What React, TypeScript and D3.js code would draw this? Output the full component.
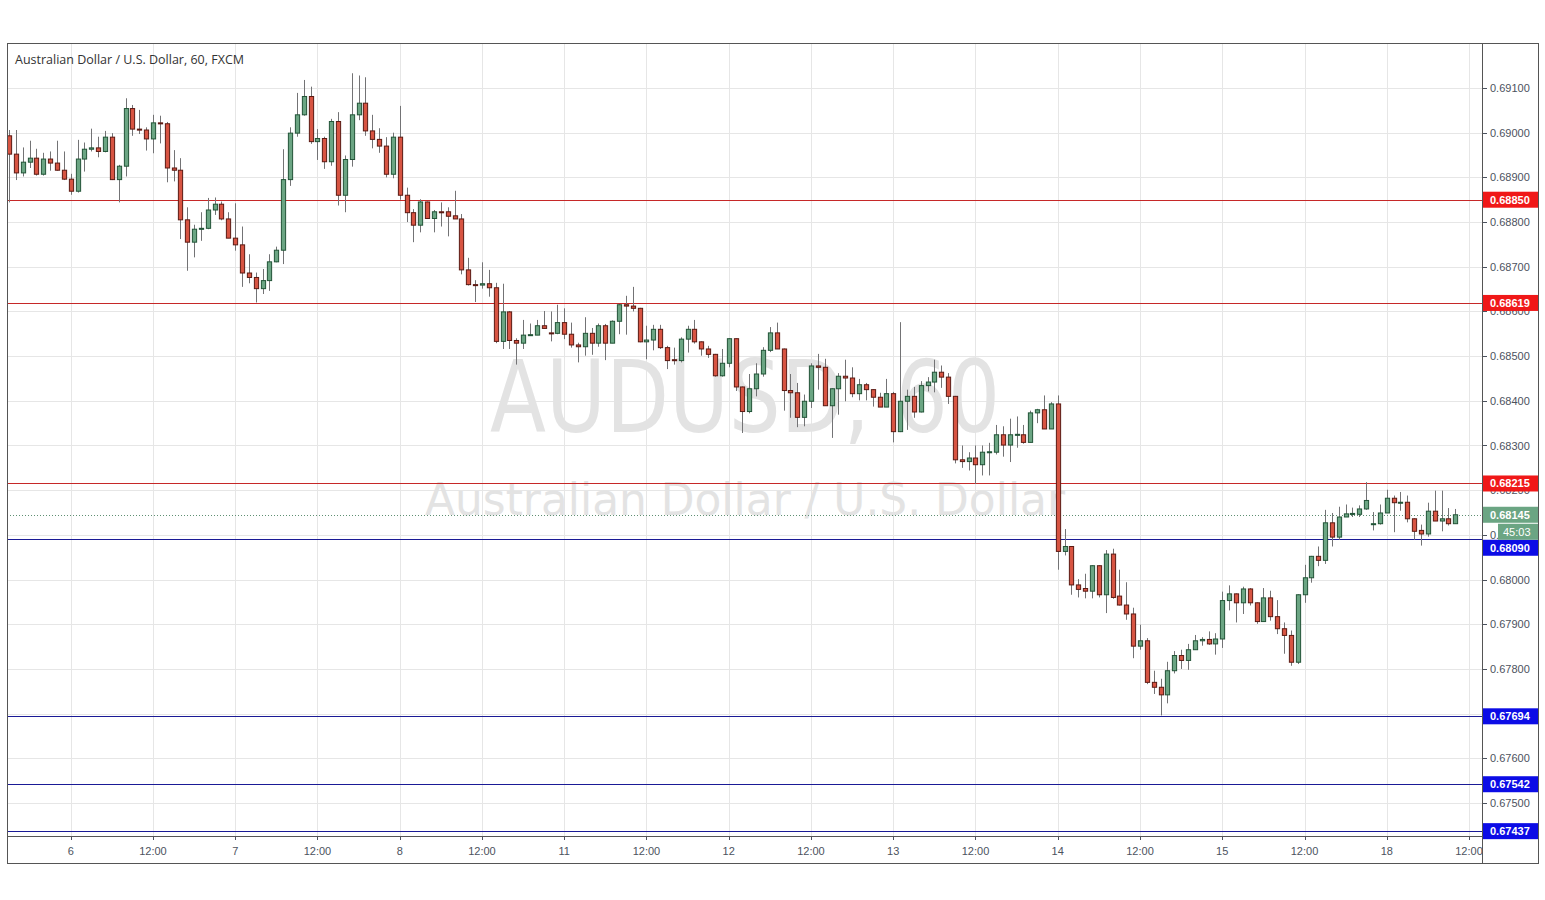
import * as d3 from 'd3';

// AUDUSD 60-minute candles (index 0 = first visible bar)
const opens = [
  0.68993, 0.68952, 0.68910, 0.68934, 0.68943, 0.68907, 0.68941, 0.68932, 0.68916, 0.68896,
  0.68869, 0.68941, 0.68963, 0.68966, 0.68958, 0.68990, 0.68895, 0.68925, 0.69054, 0.69008,
  0.69006, 0.68986, 0.69022, 0.69020, 0.68921, 0.68916, 0.68805, 0.68755, 0.68785, 0.68786,
  0.68827, 0.68840, 0.68807, 0.68764, 0.68749, 0.68686, 0.68676, 0.68651, 0.68669, 0.68711,
  0.68737, 0.68895, 0.68999, 0.69040, 0.69081, 0.68980, 0.68987, 0.68935, 0.69025, 0.68860,
  0.68940, 0.69040, 0.69066, 0.69004, 0.68985, 0.68970, 0.68907, 0.68990, 0.68860, 0.68821,
  0.68793, 0.68845, 0.68808, 0.68823, 0.68823, 0.68814, 0.68807, 0.68693, 0.68660, 0.68659,
  0.68662, 0.68653, 0.68533, 0.68599, 0.68535, 0.68529, 0.68547, 0.68547, 0.68568, 0.68552,
  0.68551, 0.68575, 0.68549, 0.68525, 0.68521, 0.68551, 0.68529, 0.68568, 0.68529, 0.68578,
  0.68615, 0.68612, 0.68607, 0.68532, 0.68536, 0.68560, 0.68519, 0.68492, 0.68490, 0.68538,
  0.68560, 0.68532, 0.68516, 0.68504, 0.68456, 0.68484, 0.68539, 0.68431, 0.68376, 0.68427,
  0.68460, 0.68513, 0.68552, 0.68516, 0.68423, 0.68418, 0.68363, 0.68399, 0.68478, 0.68475,
  0.68389, 0.68427, 0.68455, 0.68451, 0.68416, 0.68436, 0.68425, 0.68408, 0.68386, 0.68416,
  0.68331, 0.68399, 0.68410, 0.68375, 0.68434, 0.68442, 0.68464, 0.68453, 0.68410, 0.68268,
  0.68264, 0.68272, 0.68257, 0.68285, 0.68285, 0.68324, 0.68301, 0.68324, 0.68324, 0.68307,
  0.68373, 0.68380, 0.68337, 0.68393, 0.68063, 0.68074, 0.67988, 0.67980, 0.67974, 0.68031,
  0.67966, 0.68057, 0.67963, 0.67943, 0.67923, 0.67851, 0.67863, 0.67770, 0.67759, 0.67742,
  0.67796, 0.67830, 0.67819, 0.67843, 0.67863, 0.67866, 0.67856, 0.67867, 0.67953, 0.67968,
  0.67948, 0.67979, 0.67948, 0.67906, 0.67959, 0.67917, 0.67890, 0.67875, 0.67815, 0.67966,
  0.68004, 0.68052, 0.68043, 0.68127, 0.68095, 0.68140, 0.68147, 0.68146, 0.68158, 0.68124,
  0.68125, 0.68149, 0.68182, 0.68172, 0.68173, 0.68136, 0.68110, 0.68102, 0.68153, 0.68131,
  0.68136, 0.68125,
];
const highs = [
  0.69006, 0.69006, 0.68967, 0.68982, 0.68964, 0.68955, 0.68958, 0.68982, 0.68958, 0.68908,
  0.68984, 0.68978, 0.69009, 0.68991, 0.69004, 0.68999, 0.68928, 0.69077, 0.69062, 0.69051,
  0.69012, 0.69040, 0.69038, 0.69024, 0.68961, 0.68943, 0.68833, 0.68794, 0.68822, 0.68854,
  0.68855, 0.68846, 0.68822, 0.68842, 0.68790, 0.68728, 0.68687, 0.68695, 0.68728, 0.68745,
  0.68963, 0.69012, 0.69089, 0.69118, 0.69103, 0.69008, 0.68991, 0.69031, 0.69046, 0.68949,
  0.69133, 0.69128, 0.69124, 0.69040, 0.69010, 0.68990, 0.69000, 0.69060, 0.68877, 0.68829,
  0.68851, 0.68846, 0.68827, 0.68844, 0.68833, 0.68870, 0.68818, 0.68720, 0.68670, 0.68710,
  0.68693, 0.68664, 0.68662, 0.68601, 0.68540, 0.68581, 0.68573, 0.68581, 0.68601, 0.68600,
  0.68615, 0.68607, 0.68575, 0.68530, 0.68587, 0.68563, 0.68573, 0.68572, 0.68580, 0.68616,
  0.68635, 0.68655, 0.68608, 0.68568, 0.68570, 0.68570, 0.68523, 0.68519, 0.68542, 0.68568,
  0.68581, 0.68533, 0.68523, 0.68505, 0.68516, 0.68540, 0.68540, 0.68432, 0.68460, 0.68484,
  0.68520, 0.68565, 0.68575, 0.68517, 0.68460, 0.68440, 0.68414, 0.68484, 0.68505, 0.68494,
  0.68428, 0.68462, 0.68492, 0.68475, 0.68449, 0.68440, 0.68426, 0.68418, 0.68449, 0.68420,
  0.68576, 0.68425, 0.68431, 0.68444, 0.68453, 0.68492, 0.68479, 0.68462, 0.68411, 0.68300,
  0.68285, 0.68300, 0.68300, 0.68306, 0.68346, 0.68343, 0.68360, 0.68365, 0.68346, 0.68378,
  0.68382, 0.68412, 0.68397, 0.68412, 0.68113, 0.68075, 0.68001, 0.68013, 0.68032, 0.68032,
  0.68066, 0.68069, 0.68022, 0.67994, 0.67937, 0.67899, 0.67869, 0.67796, 0.67778, 0.67816,
  0.67840, 0.67843, 0.67856, 0.67876, 0.67871, 0.67884, 0.67880, 0.67973, 0.67987, 0.67969,
  0.67984, 0.67981, 0.67949, 0.67981, 0.67975, 0.67954, 0.67904, 0.67886, 0.67967, 0.68033,
  0.68053, 0.68074, 0.68156, 0.68149, 0.68163, 0.68168, 0.68161, 0.68166, 0.68218, 0.68151,
  0.68168, 0.68201, 0.68188, 0.68196, 0.68188, 0.68137, 0.68123, 0.68172, 0.68199, 0.68199,
  0.68160, 0.68158,
];
const lows = [
  0.68844, 0.68894, 0.68902, 0.68921, 0.68904, 0.68904, 0.68915, 0.68915, 0.68894, 0.68861,
  0.68866, 0.68913, 0.68958, 0.68945, 0.68956, 0.68894, 0.68844, 0.68902, 0.68993, 0.68997,
  0.68960, 0.68954, 0.68976, 0.68889, 0.68891, 0.68762, 0.68691, 0.68721, 0.68758, 0.68784,
  0.68816, 0.68804, 0.68764, 0.68736, 0.68655, 0.68663, 0.68620, 0.68639, 0.68646, 0.68710,
  0.68706, 0.68881, 0.68991, 0.69038, 0.68975, 0.68939, 0.68919, 0.68926, 0.68837, 0.68822,
  0.68924, 0.69028, 0.68993, 0.68965, 0.68955, 0.68900, 0.68898, 0.68850, 0.68800, 0.68755,
  0.68777, 0.68807, 0.68777, 0.68790, 0.68768, 0.68807, 0.68683, 0.68658, 0.68621, 0.68651,
  0.68633, 0.68529, 0.68516, 0.68516, 0.68481, 0.68516, 0.68547, 0.68547, 0.68562, 0.68533,
  0.68549, 0.68538, 0.68519, 0.68486, 0.68501, 0.68503, 0.68521, 0.68491, 0.68529, 0.68549,
  0.68548, 0.68600, 0.68531, 0.68493, 0.68513, 0.68516, 0.68471, 0.68481, 0.68486, 0.68508,
  0.68528, 0.68501, 0.68496, 0.68454, 0.68454, 0.68475, 0.68422, 0.68328, 0.68372, 0.68410,
  0.68454, 0.68509, 0.68516, 0.68378, 0.68362, 0.68341, 0.68343, 0.68384, 0.68425, 0.68389,
  0.68317, 0.68369, 0.68399, 0.68408, 0.68401, 0.68401, 0.68387, 0.68386, 0.68386, 0.68307,
  0.68330, 0.68335, 0.68362, 0.68374, 0.68421, 0.68419, 0.68429, 0.68393, 0.68260, 0.68250,
  0.68244, 0.68214, 0.68233, 0.68233, 0.68280, 0.68275, 0.68263, 0.68295, 0.68304, 0.68307,
  0.68350, 0.68337, 0.68337, 0.68022, 0.68054, 0.67966, 0.67960, 0.67958, 0.67958, 0.67960,
  0.67925, 0.67957, 0.67942, 0.67910, 0.67824, 0.67843, 0.67766, 0.67744, 0.67696, 0.67723,
  0.67790, 0.67800, 0.67798, 0.67843, 0.67852, 0.67854, 0.67832, 0.67847, 0.67931, 0.67904,
  0.67923, 0.67942, 0.67901, 0.67906, 0.67908, 0.67878, 0.67834, 0.67807, 0.67811, 0.67948,
  0.67993, 0.68030, 0.68035, 0.68074, 0.68089, 0.68140, 0.68140, 0.68140, 0.68156, 0.68110,
  0.68123, 0.68149, 0.68106, 0.68154, 0.68128, 0.68089, 0.68076, 0.68096, 0.68131, 0.68108,
  0.68121, 0.68125,
];
const closes = [
  0.68952, 0.68910, 0.68934, 0.68943, 0.68907, 0.68941, 0.68932, 0.68916, 0.68896, 0.68869,
  0.68941, 0.68963, 0.68966, 0.68958, 0.68990, 0.68895, 0.68925, 0.69054, 0.69008, 0.69006,
  0.68986, 0.69022, 0.69020, 0.68921, 0.68916, 0.68805, 0.68755, 0.68784, 0.68786, 0.68827,
  0.68840, 0.68807, 0.68764, 0.68749, 0.68686, 0.68676, 0.68651, 0.68669, 0.68711, 0.68737,
  0.68895, 0.68999, 0.69040, 0.69081, 0.68980, 0.68987, 0.68935, 0.69025, 0.68860, 0.68940,
  0.69040, 0.69066, 0.69004, 0.68985, 0.68970, 0.68907, 0.68990, 0.68860, 0.68821, 0.68793,
  0.68845, 0.68808, 0.68823, 0.68822, 0.68813, 0.68807, 0.68693, 0.68660, 0.68659, 0.68662,
  0.68653, 0.68533, 0.68599, 0.68535, 0.68529, 0.68547, 0.68548, 0.68568, 0.68562, 0.68551,
  0.68575, 0.68549, 0.68525, 0.68521, 0.68551, 0.68529, 0.68568, 0.68529, 0.68578, 0.68615,
  0.68612, 0.68607, 0.68532, 0.68536, 0.68560, 0.68519, 0.68490, 0.68490, 0.68538, 0.68560,
  0.68532, 0.68516, 0.68504, 0.68456, 0.68484, 0.68539, 0.68431, 0.68376, 0.68427, 0.68460,
  0.68513, 0.68552, 0.68516, 0.68423, 0.68418, 0.68363, 0.68399, 0.68478, 0.68475, 0.68389,
  0.68427, 0.68455, 0.68451, 0.68416, 0.68436, 0.68425, 0.68408, 0.68386, 0.68416, 0.68331,
  0.68399, 0.68410, 0.68375, 0.68434, 0.68442, 0.68464, 0.68453, 0.68410, 0.68268, 0.68264,
  0.68272, 0.68257, 0.68285, 0.68286, 0.68324, 0.68301, 0.68324, 0.68325, 0.68307, 0.68373,
  0.68380, 0.68337, 0.68393, 0.68063, 0.68074, 0.67988, 0.67978, 0.67974, 0.68031, 0.67966,
  0.68057, 0.67960, 0.67943, 0.67923, 0.67851, 0.67863, 0.67770, 0.67759, 0.67742, 0.67796,
  0.67830, 0.67819, 0.67843, 0.67863, 0.67866, 0.67856, 0.67867, 0.67953, 0.67968, 0.67948,
  0.67979, 0.67948, 0.67906, 0.67959, 0.67917, 0.67890, 0.67875, 0.67815, 0.67966, 0.68004,
  0.68052, 0.68043, 0.68127, 0.68095, 0.68140, 0.68147, 0.68148, 0.68158, 0.68177, 0.68125,
  0.68149, 0.68182, 0.68172, 0.68173, 0.68136, 0.68108, 0.68102, 0.68153, 0.68131, 0.68136,
  0.68125, 0.68145,
];

// horizontal levels drawn on the chart
const resistanceLevels = [0.6885, 0.68619, 0.68215];
const supportLevels = [0.6809, 0.67694, 0.67542, 0.67437];

// time axis: bar index -> label
const timeTickIndex = [9, 21, 33, 45, 57, 69, 81, 93, 105, 117, 129, 141, 153, 165, 177, 189, 201, 213];
const timeTickLabels = ['6', '12:00', '7', '12:00', '8', '12:00', '11', '12:00', '12', '12:00', '13', '12:00', '14', '12:00', '15', '12:00', '18', '12:00'];

const priceTicks = d3.range(0.675, 0.6915, 0.001);

const UP = '#6ba583';
const UP_BORDER = '#225437';
const DOWN = '#d75442';
const DOWN_BORDER = '#5b1a13';
const WICK = '#737375';
const GRID = '#e6e6e6';
const FRAME = '#555';
const AXIS_TEXT = '#4c525e';
const LINE_RED = '#c62828';
const LINE_BLUE = '#1a1a96';
const BOX_RED = '#f01818';
const BOX_BLUE = '#0c0ce6';
const FONT = '"Liberation Sans", Arial, sans-serif';

export default function App() {
  const left = 7, top = 43, right = 1482, bottom = 836, outerRight = 1538, outerBottom = 863;

  const x = d3.scaleLinear().domain([0, opens.length - 1]).range([9, 1455.3]);
  const y = d3.scaleLinear().domain([0.675, 0.691]).range([803, 88]);
  const step = x(1) - x(0);
  const bodyW = step * 0.62;

  const lastClose = closes[closes.length - 1];
  const lastY = y(lastClose);
  const fmt = d3.format('.5f');

  const levels = [
    ...resistanceLevels.map((v) => ({ v, line: LINE_RED, box: BOX_RED })),
    ...supportLevels.map((v) => ({ v, line: LINE_BLUE, box: BOX_BLUE })),
  ];
  // countdown box sits under the last-price box; push overlapping level labels below it
  const cdTop = lastY + 9, cdBottom = lastY + 25;
  const labelY = (v: number) => {
    const cy = y(v);
    if (cy + 8 > cdTop && cy - 8 < cdBottom) return cdBottom + 8;
    return cy;
  };

  return (
    <svg width={1545} height={900} style={{ position: 'absolute', left: 0, top: 0, background: '#fff' }} fontFamily={FONT}>
      <defs>
        <clipPath id="plot">
          <rect x={left} y={top} width={right - left} height={bottom - top} />
        </clipPath>
        <clipPath id="taxis">
          <rect x={left} y={bottom} width={right - left} height={outerBottom - bottom} />
        </clipPath>
      </defs>

      {/* grid */}
      <g clipPath="url(#plot)">
        {priceTicks.map((p) => (
          <line key={'h' + p} x1={left} x2={right} y1={Math.round(y(p)) + 0.5} y2={Math.round(y(p)) + 0.5} stroke={GRID} />
        ))}
        {timeTickIndex.map((i) => (
          <line key={'v' + i} x1={Math.round(x(i)) + 0.5} x2={Math.round(x(i)) + 0.5} y1={top} y2={bottom} stroke={GRID} />
        ))}
      </g>

      {/* watermark */}
      <g fill="#e3e3e3" textAnchor="middle" fontFamily='"DejaVu Sans", sans-serif'>
        <text x={745} y={432} fontSize={100} textLength={510} lengthAdjust="spacingAndGlyphs">AUDUSD, 60</text>
        <text x={745} y={515} fontSize={44} textLength={640} lengthAdjust="spacingAndGlyphs">Australian Dollar / U.S. Dollar</text>
      </g>

      {/* level lines */}
      <g clipPath="url(#plot)">
        {levels.map((l) => (
          <line key={'l' + l.v} x1={left} x2={right} y1={Math.round(y(l.v)) + 0.5} y2={Math.round(y(l.v)) + 0.5} stroke={l.line} strokeWidth={1} />
        ))}
        <line x1={left} x2={right} y1={Math.round(lastY) + 0.5} y2={Math.round(lastY) + 0.5} stroke="#5f8f73" strokeDasharray="1,2" />
      </g>

      {/* candles */}
      <g clipPath="url(#plot)">
        {opens.map((o, i) => {
          const c = closes[i];
          const up = c >= o;
          const cx = Math.round(x(i)) + 0.5;
          const yt = y(Math.max(o, c));
          const yb = y(Math.min(o, c));
          return (
            <g key={i}>
              <line x1={cx} x2={cx} y1={y(highs[i])} y2={y(lows[i])} stroke={WICK} strokeWidth={1} />
              <rect
                x={cx - bodyW / 2}
                y={yt}
                width={bodyW}
                height={Math.max(1, yb - yt)}
                fill={up ? UP : DOWN}
                stroke={up ? UP_BORDER : DOWN_BORDER}
                strokeWidth={1}
              />
            </g>
          );
        })}
      </g>

      {/* title */}
      <text x={15} y={64} fontSize={12.5} fill="#333" fontFamily='"Open Sans", sans-serif'>
        Australian Dollar / U.S. Dollar, 60, FXCM
      </text>

      {/* price axis */}
      <g fontSize={11} fill={AXIS_TEXT}>
        {priceTicks.map((p) => (
          <g key={'pt' + p}>
            <line x1={right} x2={right + 5} y1={Math.round(y(p)) + 0.5} y2={Math.round(y(p)) + 0.5} stroke={AXIS_TEXT} />
            <text x={1490} y={y(p) + 4}>{fmt(p)}</text>
          </g>
        ))}
      </g>

      {/* level labels */}
      {levels.map((l) => {
        const cy = labelY(l.v);
        return (
          <g key={'lb' + l.v}>
            <rect x={right} y={cy - 8} width={outerRight - right} height={16} fill={l.box} />
            <text x={1490} y={cy + 4} fontSize={11} fontWeight="bold" fill="#fff">{fmt(l.v)}</text>
          </g>
        );
      })}

      {/* last price + countdown */}
      <rect x={right} y={lastY - 8} width={outerRight - right} height={16} fill={UP} />
      <text x={1490} y={lastY + 4} fontSize={11} fontWeight="bold" fill="#fff">{fmt(lastClose)}</text>
      <rect x={1498} y={cdTop} width={outerRight - 1498} height={cdBottom - cdTop} fill={UP} />
      <text x={1503} y={cdTop + 12} fontSize={11} fill="#fff">45:03</text>

      {/* time axis */}
      <g clipPath="url(#taxis)" fontSize={11} fill={AXIS_TEXT} textAnchor="middle">
        {timeTickIndex.map((i, k) => (
          <g key={'tt' + i}>
            <line x1={Math.round(x(i)) + 0.5} x2={Math.round(x(i)) + 0.5} y1={bottom} y2={bottom + 4} stroke={AXIS_TEXT} />
            <text x={x(i)} y={855}>{timeTickLabels[k]}</text>
          </g>
        ))}
      </g>

      {/* frame */}
      <g fill="none" stroke={FRAME} strokeWidth={1}>
        <rect x={left + 0.5} y={top + 0.5} width={outerRight - left} height={outerBottom - top} />
        <line x1={right + 0.5} x2={right + 0.5} y1={top} y2={outerBottom} />
        <line x1={left} x2={right} y1={bottom + 0.5} y2={bottom + 0.5} />
      </g>
    </svg>
  );
}
